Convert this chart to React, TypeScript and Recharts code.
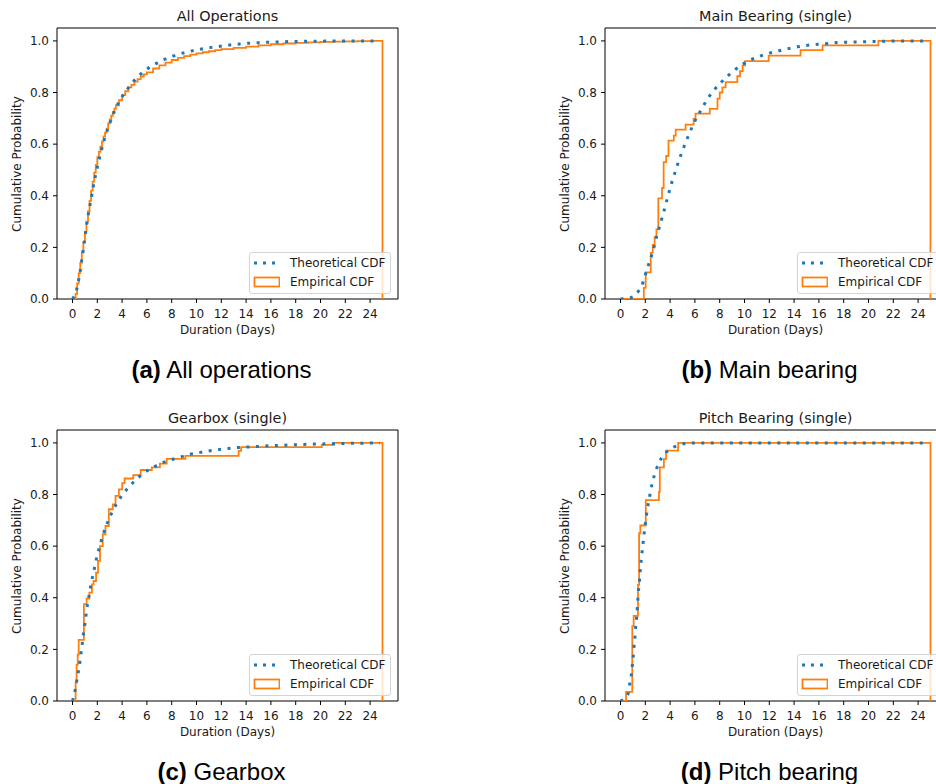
import { LineChart, Line, XAxis, YAxis, ReferenceArea } from "recharts";

type Row = [number, number];

// shared axis ticks
const xTicks = [0, 2, 4, 6, 8, 10, 12, 14, 16, 18, 20, 22, 24];
const yTicks = [0, 0.2, 0.4, 0.6, 0.8, 1.0];

// (a) All operations  -  [duration, cumulative probability]
const allOpsTheoretical: Row[] = [
  [0, 0], [0.33, 0.036], [0.5, 0.075], [0.63, 0.11], [0.74, 0.149], [0.85, 0.186],
  [0.96, 0.224], [1.07, 0.263], [1.18, 0.3], [1.31, 0.338], [1.45, 0.374], [1.59, 0.411],
  [1.72, 0.448], [1.89, 0.485], [2.05, 0.521], [2.24, 0.558], [2.43, 0.595], [2.65, 0.631],
  [2.9, 0.666], [3.17, 0.702], [3.47, 0.737], [3.83, 0.771], [4.26, 0.802], [4.73, 0.832],
  [5.25, 0.86], [5.85, 0.885], [6.51, 0.906], [7.22, 0.924], [7.98, 0.939], [8.75, 0.951],
  [9.51, 0.96], [10.3, 0.968], [11.07, 0.974], [11.9, 0.979], [12.66, 0.984], [13.45, 0.988],
  [14.2, 0.991], [15.0, 0.993], [16.5, 0.996], [18, 0.998], [20, 0.999], [22, 1.0], [24.8, 1.0],
];
const allOpsEmpirical: Row[] = [
  [0, 0], [0.25, 0.02], [0.375, 0.06], [0.5, 0.1], [0.625, 0.14], [0.75, 0.18], [0.875, 0.22],
  [1.0, 0.26], [1.125, 0.3], [1.25, 0.34], [1.375, 0.38], [1.5, 0.42], [1.625, 0.455],
  [1.75, 0.49], [1.875, 0.52], [2.0, 0.55], [2.125, 0.57], [2.25, 0.59], [2.375, 0.61],
  [2.5, 0.63], [2.625, 0.645], [2.75, 0.66], [2.875, 0.68], [3.0, 0.695], [3.125, 0.71],
  [3.25, 0.725], [3.375, 0.738], [3.5, 0.75], [3.75, 0.77], [4.0, 0.79], [4.25, 0.805],
  [4.5, 0.82], [4.75, 0.83], [5.0, 0.842], [5.25, 0.852], [5.5, 0.862], [5.75, 0.87],
  [6.0, 0.878], [6.5, 0.893], [7.0, 0.905], [7.5, 0.916], [8.0, 0.926], [8.5, 0.934],
  [9.0, 0.941], [9.5, 0.947], [10, 0.952], [10.5, 0.956], [11, 0.96], [11.5, 0.964],
  [12, 0.968], [13, 0.973], [14, 0.978], [15, 0.983], [16, 0.987], [17, 0.99], [18, 0.992],
  [19, 0.994], [20, 0.996], [21, 0.997], [22, 0.998], [23, 0.999], [24, 1.0], [25, 1.0], [25, 0],
];

// (b) Main bearing
const mainBearingTheoretical: Row[] = [
  [0, 0], [0.87, 0.006], [1.44, 0.03], [1.82, 0.065], [2.04, 0.1], [2.28, 0.136],
  [2.53, 0.172], [2.74, 0.208], [2.93, 0.245], [3.15, 0.281], [3.37, 0.318], [3.58, 0.354],
  [3.77, 0.389], [3.99, 0.427], [4.21, 0.463], [4.45, 0.498], [4.7, 0.536], [4.97, 0.571],
  [5.24, 0.605], [5.54, 0.64], [5.86, 0.675], [6.22, 0.709], [6.6, 0.741], [7.0, 0.774],
  [7.47, 0.805], [8.01, 0.834], [8.55, 0.86], [9.15, 0.885], [9.77, 0.907], [10.45, 0.925],
  [11.21, 0.94], [11.95, 0.952], [12.73, 0.961], [13.52, 0.97], [14.28, 0.977], [15.1, 0.983],
  [15.88, 0.987], [16.67, 0.99], [17.46, 0.994], [18.25, 0.995], [19.82, 0.997],
  [21.5, 0.999], [24.8, 1.0],
];
const mainBearingEmpirical: Row[] = [
  [0, 0], [1.88, 0.043], [2.03, 0.103], [2.44, 0.179], [2.6, 0.21], [2.75, 0.24], [2.9, 0.27],
  [3.05, 0.39], [3.35, 0.43], [3.48, 0.53], [3.68, 0.554], [3.87, 0.614], [4.3, 0.633],
  [4.45, 0.656], [5.25, 0.676], [5.9, 0.698], [6.05, 0.718], [7.2, 0.737], [7.82, 0.776],
  [8.0, 0.8], [8.22, 0.82], [8.48, 0.84], [9.42, 0.863], [9.64, 0.883], [9.85, 0.905],
  [10.05, 0.922], [11.95, 0.943], [14.52, 0.964], [16.3, 0.983], [20.8, 1.0], [25, 1.0], [25, 0],
];

// (c) Gearbox
const gearboxTheoretical: Row[] = [
  [0, 0], [0.22, 0.043], [0.35, 0.08], [0.48, 0.116], [0.6, 0.154], [0.7, 0.191], [0.8, 0.227],
  [0.9, 0.265], [1.01, 0.302], [1.11, 0.34], [1.22, 0.379], [1.36, 0.415], [1.49, 0.452],
  [1.65, 0.488], [1.82, 0.526], [1.98, 0.562], [2.2, 0.6], [2.41, 0.636], [2.66, 0.672],
  [2.96, 0.707], [3.28, 0.74], [3.66, 0.773], [4.1, 0.804], [4.61, 0.832], [5.15, 0.859],
  [5.78, 0.884], [6.43, 0.903], [7.16, 0.921], [7.89, 0.934], [8.65, 0.944], [9.41, 0.955],
  [10.2, 0.962], [10.98, 0.969], [11.77, 0.974], [12.53, 0.978], [13.31, 0.982], [14.1, 0.984],
  [16, 0.989], [18, 0.993], [20, 0.996], [22, 0.998], [24.8, 1.0],
];
const gearboxEmpirical: Row[] = [
  [0, 0], [0.25, 0.07], [0.33, 0.14], [0.42, 0.18], [0.5, 0.237], [0.92, 0.375], [1.14, 0.397],
  [1.36, 0.42], [1.57, 0.452], [1.7, 0.465], [1.9, 0.497], [2.06, 0.543], [2.22, 0.6],
  [2.44, 0.646], [2.66, 0.678], [2.93, 0.743], [3.25, 0.762], [3.47, 0.795], [3.74, 0.82],
  [4.01, 0.844], [4.2, 0.862], [4.9, 0.875], [5.5, 0.895], [6.4, 0.905], [7.05, 0.92],
  [7.6, 0.938], [9.1, 0.95], [13.4, 0.969], [13.6, 0.984], [20.1, 0.992], [21.1, 1.0],
  [25, 1.0], [25, 0],
];

// (d) Pitch bearing
const pitchTheoretical: Row[] = [
  [0, 0], [0.6, 0.026], [0.73, 0.062], [0.87, 0.1], [0.95, 0.136], [1.03, 0.174], [1.09, 0.212],
  [1.17, 0.249], [1.22, 0.287], [1.3, 0.324], [1.36, 0.362], [1.41, 0.399], [1.47, 0.437],
  [1.55, 0.474], [1.6, 0.512], [1.68, 0.549], [1.76, 0.587], [1.85, 0.624], [1.93, 0.661],
  [2.04, 0.699], [2.14, 0.736], [2.28, 0.774], [2.42, 0.811], [2.58, 0.848], [2.8, 0.885],
  [3.07, 0.92], [3.45, 0.951], [3.99, 0.975], [4.75, 0.992], [5.54, 0.999], [6.33, 1.0],
  [24.8, 1.0],
];
const pitchEmpirical: Row[] = [
  [0, 0], [0.45, 0.035], [0.95, 0.29], [1.06, 0.33], [1.41, 0.45], [1.5, 0.65], [1.6, 0.68],
  [2.04, 0.778], [3.1, 0.81], [3.17, 0.905], [3.5, 0.937], [3.67, 0.97], [4.65, 1.0],
  [25, 1.0], [25, 0],
];

const toPoints = (rows: Row[]) => rows.map(([x, v]) => ({ x, v }));

const FONT = '"DejaVu Sans", sans-serif';
const TEXT = "#1a1a1a";
const BLUE = "#1f77b4";
const ORANGE = "#ff7f0e";

function LegendBox() {
  return (
    <div
      style={{
        position: "absolute",
        left: 249,
        top: 252,
        width: 142,
        height: 42,
        boxSizing: "border-box",
        border: "1px solid #d4d4d4",
        borderRadius: 3,
        background: "rgba(255,255,255,0.8)",
        fontFamily: FONT,
        fontSize: 12,
        color: TEXT,
      }}
    >
      <svg width={30} height={40} style={{ position: "absolute", left: 0, top: 0 }}>
        <line x1={4} y1={10} x2={28} y2={10} stroke={BLUE} strokeWidth={3} strokeDasharray="3 6" />
        <rect x={4.5} y={24.5} width={25} height={9} fill="none" stroke={ORANGE} strokeWidth={1.8} />
      </svg>
      <div style={{ position: "absolute", left: 40, top: 4, lineHeight: "12px", whiteSpace: "nowrap" }}>
        Theoretical CDF
      </div>
      <div style={{ position: "absolute", left: 40, top: 23, lineHeight: "12px", whiteSpace: "nowrap" }}>
        Empirical CDF
      </div>
    </div>
  );
}

function CdfPanel({
  left,
  top,
  title,
  theoretical,
  empirical,
}: {
  left: number;
  top: number;
  title: string;
  theoretical: Row[];
  empirical: Row[];
}) {
  const tickStyle = { fill: TEXT, fontSize: 12, fontFamily: FONT };
  return (
    <div style={{ position: "absolute", left, top, width: 400, height: 340 }}>
      <LineChart width={400} height={340} margin={{ top: 28, right: 2, bottom: 0, left: 0 }}>
        <XAxis
          type="number"
          dataKey="x"
          domain={[-1.25, 26.25]}
          allowDataOverflow
          ticks={xTicks}
          interval={0}
          height={41}
          tickSize={4}
          tickMargin={6}
          axisLine={false}
          tickLine={{ stroke: "#000" }}
          tick={tickStyle}
        />
        <YAxis
          type="number"
          domain={[0, 1.05]}
          allowDataOverflow
          ticks={yTicks}
          interval={0}
          width={57}
          tickSize={4}
          tickMargin={4}
          axisLine={false}
          tickLine={{ stroke: "#000" }}
          tick={tickStyle}
          tickFormatter={(v: number) => v.toFixed(1)}
        />
        <Line
          data={toPoints(empirical)}
          dataKey="v"
          type="stepAfter"
          stroke={ORANGE}
          strokeWidth={1.8}
          dot={false}
          activeDot={false}
          isAnimationActive={false}
        />
        <Line
          data={toPoints(theoretical)}
          dataKey="v"
          type="monotoneX"
          stroke={BLUE}
          strokeWidth={3}
          strokeDasharray="3 6.5"
          dot={false}
          activeDot={false}
          isAnimationActive={false}
        />
        <ReferenceArea
          x1={-1.25}
          x2={26.25}
          y1={0}
          y2={1.05}
          fill="none"
          stroke="#000"
          strokeWidth={1}
          ifOverflow="visible"
        />
      </LineChart>
      <div
        style={{
          position: "absolute",
          left: 57,
          width: 341,
          top: 8.8,
          textAlign: "center",
          fontFamily: FONT,
          fontSize: 14.4,
          lineHeight: "14.4px",
          color: TEXT,
          whiteSpace: "nowrap",
        }}
      >
        {title}
      </div>
      <div
        style={{
          position: "absolute",
          left: 57,
          width: 341,
          top: 324,
          textAlign: "center",
          fontFamily: FONT,
          fontSize: 12,
          lineHeight: "12px",
          color: TEXT,
        }}
      >
        Duration (Days)
      </div>
      <div
        style={{
          position: "absolute",
          left: 17,
          top: 164,
          transform: "translate(-50%, -50%) rotate(-90deg)",
          fontFamily: FONT,
          fontSize: 12,
          lineHeight: "12px",
          color: TEXT,
          whiteSpace: "nowrap",
        }}
      >
        Cumulative Probability
      </div>
      <LegendBox />
    </div>
  );
}

function Caption({ left, top, tag, text }: { left: number; top: number; tag: string; text: string }) {
  return (
    <div
      style={{
        position: "absolute",
        left,
        top,
        width: 443,
        textAlign: "center",
        fontFamily: '"Liberation Sans", Arial, sans-serif',
        fontSize: 24,
        lineHeight: "24px",
        color: "#000",
        whiteSpace: "nowrap",
      }}
    >
      <b>{tag}</b> {text}
    </div>
  );
}

export default function App() {
  return (
    <div
      style={{
        position: "absolute",
        left: 0,
        top: 0,
        width: 936,
        height: 784,
        overflow: "hidden",
        background: "#fff",
      }}
    >
      <CdfPanel left={0} top={0} title="All Operations" theoretical={allOpsTheoretical} empirical={allOpsEmpirical} />
      <CdfPanel left={548} top={0} title="Main Bearing (single)" theoretical={mainBearingTheoretical} empirical={mainBearingEmpirical} />
      <CdfPanel left={0} top={402} title="Gearbox (single)" theoretical={gearboxTheoretical} empirical={gearboxEmpirical} />
      <CdfPanel left={548} top={402} title="Pitch Bearing (single)" theoretical={pitchTheoretical} empirical={pitchEmpirical} />
      <Caption left={0} top={358} tag="(a)" text="All operations" />
      <Caption left={548} top={358} tag="(b)" text="Main bearing" />
      <Caption left={0} top={760} tag="(c)" text="Gearbox" />
      <Caption left={548} top={760} tag="(d)" text="Pitch bearing" />
    </div>
  );
}
